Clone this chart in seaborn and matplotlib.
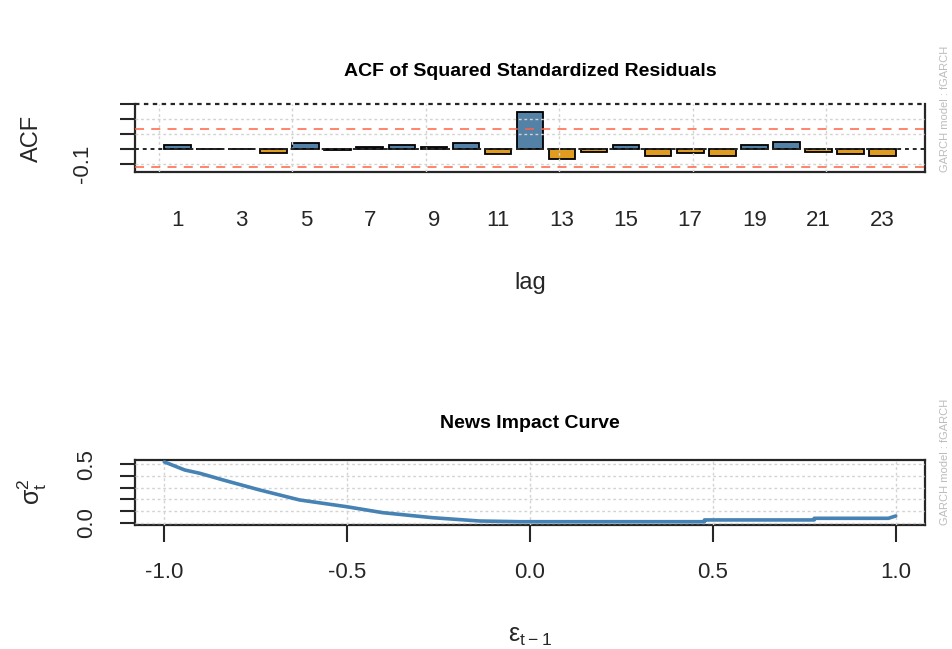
import matplotlib
matplotlib.use("Agg")
import matplotlib.pyplot as plt
import seaborn as sns
import pandas as pd

# ACF of squared standardized residuals
lags = list(range(1, 24))
acf_vals = [0.027, 0.002, -0.002, -0.025, 0.038, -0.011, 0.013, 0.027, 0.013, 0.036,
            -0.036, 0.245, -0.067, -0.022, 0.025, -0.045, -0.031, -0.045, 0.025, 0.047,
            -0.020, -0.034, -0.045]
clim_upper = 0.133
clim_lower = -0.120

# news impact curve
eps = [-1.00, -0.944, -0.903, -0.839, -0.739, -0.630, -0.502, -0.403, -0.266, -0.138,
       -0.029, 0.477, 0.477, 0.777, 0.777, 0.980, 1.000]
sigma2 = [0.520, 0.451, 0.423, 0.366, 0.281, 0.196, 0.139, 0.088, 0.045, 0.017,
          0.011, 0.011, 0.026, 0.026, 0.040, 0.040, 0.060]

model_note = 'GARCH model : fGARCH'

sns.set_theme(style="white")
plt.rcParams['font.family'] = ['Liberation Sans', 'DejaVu Sans']

W, H = 952, 649
fig = plt.figure(figsize=(W / 100, H / 100), dpi=100)


def px_axes(l, t, r, b):
    return fig.add_axes([l / W, 1 - b / H, (r - l) / W, (b - t) / H])


dark = '#262626'
grid_kw = dict(color='#d3d3d3', ls=(0, (2, 2)), lw=1.0, zorder=4)

# ---- top panel: ACF bars
ax1 = px_axes(135, 104, 925, 172)
df = pd.DataFrame({'lag': lags, 'acf': acf_vals})
df['sign'] = ['pos' if v >= 0 else 'neg' for v in acf_vals]
sns.barplot(data=df, x='lag', y='acf', hue='sign',
            palette={'pos': '#4682B4', 'neg': '#FFA500'},
            dodge=False, width=1 / 1.2, edgecolor='black', linewidth=1.3,
            legend=False, ax=ax1, zorder=3)
ax1.set_xlim(-1.33, 23.33)
ax1.set_ylim(-0.155, 0.3)

for y in [-0.1, 0.1, 0.2]:
    ax1.axhline(y, **grid_kw)
for r in [0, 5, 10, 15, 20, 25]:
    ax1.axvline((r - 0.7) / 1.2, **grid_kw)
ax1.axhline(clim_upper, color='#FF6347', ls=(0, (5, 4)), lw=1.3, alpha=0.85, zorder=5)
ax1.axhline(clim_lower, color='#FF6347', ls=(0, (5, 4)), lw=1.3, alpha=0.85, zorder=5)
ax1.axhline(0, color=dark, ls=(0, (2, 2)), lw=1.4, zorder=5)
ax1.axhline(0.3, color=dark, ls=(0, (2, 2)), lw=1.6, zorder=5, clip_on=False)

odd_idx = [i for i in range(len(lags)) if lags[i] % 2 == 1]
ax1.set_xticks(odd_idx)
ax1.set_xticklabels([str(lags[i]) for i in odd_idx])
ax1.tick_params(axis='x', length=0, pad=27, labelsize=16, colors=dark)
ax1.set_yticks([-0.1, 0.0, 0.1, 0.2, 0.3])
ax1.set_yticklabels(['-0.1', '', '', '', ''], rotation=90, va='center')
ax1.tick_params(axis='y', length=11, width=1.5, pad=19, labelsize=16,
                colors=dark, left=True)
ax1.spines['top'].set_visible(False)
for s in ['left', 'right', 'bottom']:
    ax1.spines[s].set_color(dark)
    ax1.spines[s].set_linewidth(1.6)
ax1.set_xlabel('')
ax1.set_ylabel('')

fig.text(530 / W, 1 - 71 / H, 'ACF of Squared Standardized Residuals',
         ha='center', va='center', fontsize=14, fontweight='bold', color='black')
fig.text(530 / W, 1 - 283 / H, 'lag', ha='center', va='center', fontsize=17, color=dark)
fig.text(32 / W, 1 - 138 / H, 'ACF', ha='center', va='center', rotation=90,
         fontsize=17, color=dark)
fig.text(945 / W, 1 - 172 / H, model_note, ha='center', va='bottom',
         rotation=90, fontsize=8, color='#bdbdbd')

# ---- bottom panel: news impact curve
ax2 = px_axes(135, 460, 925, 525)
nic = pd.DataFrame({'eps': eps, 'sigma2': sigma2})
sns.lineplot(data=nic, x='eps', y='sigma2', estimator=None, sort=False,
             color='#4682B4', lw=2.6, ax=ax2, zorder=5)
ax2.set_xlim(-1.08, 1.08)
ax2.set_ylim(-0.017, 0.536)
for y in [0.0, 0.1, 0.2, 0.3, 0.4, 0.5]:
    ax2.axhline(y, **grid_kw)
for x in [-1.0, -0.5, 0.0, 0.5, 1.0]:
    ax2.axvline(x, **grid_kw)

ax2.set_xticks([-1.0, -0.5, 0.0, 0.5, 1.0])
ax2.set_xticklabels(['-1.0', '-0.5', '0.0', '0.5', '1.0'])
ax2.tick_params(axis='x', length=12, width=1.5, pad=15, labelsize=16,
                colors=dark, bottom=True)
ax2.set_yticks([0.0, 0.1, 0.2, 0.3, 0.4, 0.5])
ax2.set_yticklabels(['0.0', '', '', '', '', '0.5'], rotation=90, va='center')
ax2.tick_params(axis='y', length=11, width=1.5, pad=16, labelsize=16,
                colors=dark, left=True)
for s in ax2.spines.values():
    s.set_color(dark)
    s.set_linewidth(1.6)
ax2.set_xlabel('')
ax2.set_ylabel('')

fig.text(530 / W, 1 - 424 / H, 'News Impact Curve',
         ha='center', va='center', fontsize=14, fontweight='bold', color='black')
fig.text(530 / W, 1 - 636 / H, r'$\mathregular{ε_{t−1}}$', ha='center', va='center',
         fontsize=18, color=dark)
fig.text(32 / W, 1 - 492 / H, r'$\mathregular{σ_t^2}$', ha='center', va='center',
         rotation=90, fontsize=18, color=dark)
fig.text(945 / W, 1 - 525 / H, model_note, ha='center', va='bottom',
         rotation=90, fontsize=8, color='#bdbdbd')

fig.savefig('out.png', dpi=100)
